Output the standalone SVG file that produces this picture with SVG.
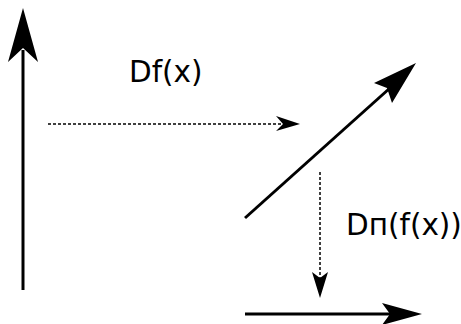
<svg xmlns="http://www.w3.org/2000/svg" width="461" height="324" viewBox="0 0 461 324">
<style>
.solid{stroke:#000;stroke-width:3;fill:none}
.dot{stroke:#000;stroke-width:1.5;fill:none;stroke-dasharray:3,2}
.head{fill:#000;stroke:none}
.lbl{font-family:"DejaVu Sans",sans-serif;font-size:29.5px;fill:#000}
</style>
<rect width="461" height="324" fill="#fff"/>
<g id="connectors">
<g id="vec-left">
<line class="solid" x1="23" y1="290" x2="23" y2="50"/>
<path class="head" d="M23,8 L38,62 L23,48 L8,62 Z"/>
</g>
<g id="map-df">
<line class="dot" x1="48" y1="124" x2="284" y2="124"/>
<path class="head" d="M300,124 L276,131 L283,124 L276,116 Z"/>
</g>
<g id="vec-diag">
<line class="solid" x1="245" y1="218" x2="390" y2="88"/>
<path class="head" d="M416,63 L392,103 L387,88 L374,83 Z"/>
</g>
<g id="map-dpi">
<line class="dot" x1="320" y1="172" x2="320" y2="279"/>
<path class="head" d="M320,298 L312,272 L320,278 L328,272 Z"/>
</g>
<g id="vec-bottom">
<line class="solid" x1="245" y1="314" x2="391" y2="314"/>
<path class="head" d="M422,314 L382,325 L390,314 L382,303 Z"/>
</g>
</g>
<g id="labels">
<text class="lbl" x="129" y="82">Df(x)</text>
<text class="lbl" x="346" y="235">Dп(f(x))</text>
</g>
</svg>
